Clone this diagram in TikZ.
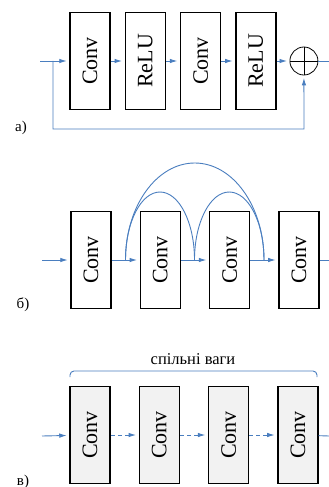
\documentclass[tikz,border=0pt]{standalone}
\usepackage{fontspec}
\setmainfont{Liberation Serif}
\usetikzlibrary{positioning,arrows.meta}
\definecolor{linkblue}{RGB}{74,126,191}
\definecolor{blockgray}{RGB}{242,242,242}

\begin{document}
\begin{tikzpicture}[x=1pt, y=-1pt, on grid,
    block/.style={rectangle, draw=black, line width=1.5pt, minimum width=40pt, minimum height=97pt, inner sep=0pt, font=\fontsize{22}{26}\selectfont},
    sum/.style={circle, draw=black, line width=0.8pt, minimum size=28pt, inner sep=0pt},
    link/.style={draw=linkblue, line width=0.9pt},
    flow/.style={link, -{Latex[length=7.5pt,width=4.5pt]}, shorten >=2.5pt},
    lbl/.style={font=\fontsize{15}{18}\selectfont}]
    \useasboundingbox (0,0) rectangle (329,487);
    % a) residual block
    \node [block] (A1) at (90,61) {\rotatebox{90}{Conv}};
    \node [block] (A2) [right=55.3pt of A1] {\rotatebox{90}{ReLU}};
    \node [block] (A3) [right=55.3pt of A2] {\rotatebox{90}{Conv}};
    \node [block] (A4) [right=55.3pt of A3] {\rotatebox{90}{ReLU}};
    \node [sum] (SUM) [right=48pt of A4] {};
    \coordinate (AIN) at (40,61);
    \coordinate (ABR) at (53,61);
    \coordinate (AFB) at (304,129);
    \coordinate (AOUT) at (329,61);
    \path (AIN) edge[flow] (A1);
    \path (A1) edge[flow] (A2);
    \path (A2) edge[flow] (A3);
    \path (A3) edge[flow] (A4);
    \path (A4) edge[flow] (SUM);
    \draw [flow] (ABR) |- (AFB) -- (SUM);
    \draw [link] (SUM) -- (AOUT);
    \draw [line width=0.8pt] (SUM.north) -- (SUM.south) (SUM.west) -- (SUM.east);
    \node [lbl] (LA) at (21,128) {а)};
    % b) dense connections
    \node [block] (B1) at (91,260) {\rotatebox{90}{Conv}};
    \node [block] (B2) [right=69.3pt of B1] {\rotatebox{90}{Conv}};
    \node [block] (B3) [right=69.3pt of B2] {\rotatebox{90}{Conv}};
    \node [block] (B4) [right=69.3pt of B3] {\rotatebox{90}{Conv}};
    \coordinate (BIN) at (42,260);
    \coordinate (BJ1) at (125.5,260);
    \coordinate (BJ2) at (194.5,260);
    \coordinate (BJ3) at (264,260);
    \coordinate (BOUT) at (329,260);
    \path (BIN) edge[flow] (B1);
    \path (B1) edge[flow] (B2);
    \path (B2) edge[flow] (B3);
    \path (B3) edge[flow] (B4);
    \draw [link] (B4) -- (BOUT);
    \draw [link] (BJ1) arc[start angle=180, end angle=0, x radius=34.5pt, y radius=68pt];
    \draw [link] (BJ2) arc[start angle=180, end angle=0, x radius=34.75pt, y radius=68pt];
    \draw [link] (BJ1) arc[start angle=180, end angle=0, x radius=69.25pt, y radius=97pt];
    \node [lbl] (LB) at (23,305) {б)};
    % c) shared weights
    \node [block, fill=blockgray] (C1) at (90,435) {\rotatebox{90}{Conv}};
    \node [block, fill=blockgray] (C2) [right=69.3pt of C1] {\rotatebox{90}{Conv}};
    \node [block, fill=blockgray] (C3) [right=69.3pt of C2] {\rotatebox{90}{Conv}};
    \node [block, fill=blockgray] (C4) [right=69.3pt of C3] {\rotatebox{90}{Conv}};
    \coordinate (CIN) at (42,436);
    \coordinate (COUT) at (329,436);
    \path (CIN) edge[flow] (C1);
    \path (C1) edge[flow, dash pattern=on 4pt off 3pt] (C2);
    \path (C2) edge[flow, dash pattern=on 4pt off 3pt] (C3);
    \path (C3) edge[flow, dash pattern=on 4pt off 3pt] (C4);
    \draw [link] (C4) -- (COUT);
    \draw [link, rounded corners=4pt] (70,377) |- (193,371) -| (317,377);
    \node [lbl, font=\fontsize{16.5}{19}\selectfont] (SHARED) at (193,359) {спільні ваги};
    \node [lbl] (LC) at (23,482) {в)};
\end{tikzpicture}
\end{document}
